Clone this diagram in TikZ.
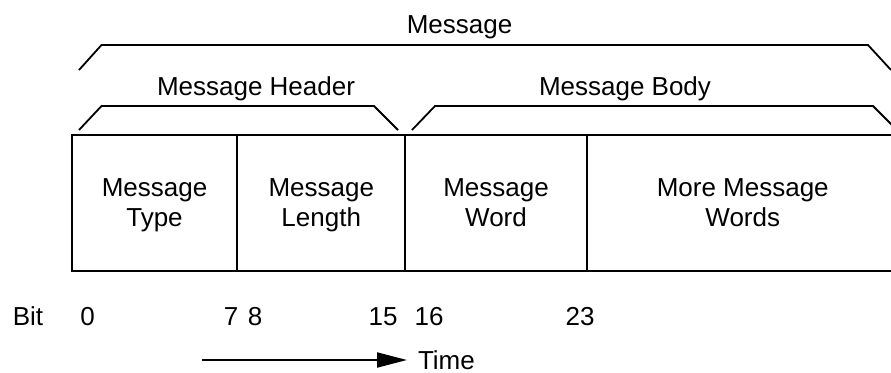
\documentclass[tikz,border=0pt]{standalone}
\usepackage{fontspec}
\setmainfont{Liberation Sans}
\usetikzlibrary{positioning, arrows.meta}

\begin{document}
\begin{tikzpicture}[
  x=1pt, y=-1pt,
  line width=2pt,
  txt/.style={font=\fontsize{26}{30}\selectfont, inner sep=0pt},
  cell/.style={draw, txt, outer sep=0pt, minimum height=136pt,
               text depth=0pt, align=center},
  brace/.style={line width=1.8pt, line join=miter},
  arr/.style={-{Triangle[length=30pt, width=15pt]}}
]
\useasboundingbox (0,0) rectangle (891,372);
\clip (0,0) rectangle (891,372);
% message fields
\node[cell, minimum width=165.5pt] (mtype) at (154.5,203) {Message\\Type};
\node[cell, minimum width=168pt, right=0pt of mtype] (mlen) {Message\\Length};
\node[cell, minimum width=181.5pt, right=0pt of mlen] (mword) {Message\\Word};
\node[cell, minimum width=312pt, right=0pt of mword] (mmore) {More Message\\Words};
% brackets
\draw[brace] (79,70) -- (101.5,45) -- (868,45) -- (891,70);
\draw[brace] (79,130) -- (101.5,106) -- (374,106) -- (398,130);
\draw[brace] (412,130) -- (435,106) -- (873,106) -- (897,130);
\node[txt, anchor=base] (msg) at (459.5,33) {Message};
\node[txt, anchor=base] (hdr) at (256,95) {Message Header};
\node[txt, anchor=base] (body) at (625,95) {Message Body};
% bit numbers
\node[txt, anchor=base] (bit) at (28,325) {Bit};
\node[txt, anchor=base] (b0) at (87.5,325) {0};
\node[txt, anchor=base] (b7) at (231,325) {7};
\node[txt, anchor=base] (b8) at (255,325) {8};
\node[txt, anchor=base] (b15) at (383,325) {15};
\node[txt, anchor=base] (b16) at (429,325) {16};
\node[txt, anchor=base] (b23) at (580,325) {23};
% time axis
\coordinate (tstart) at (202,360);
\node[txt, anchor=west, inner xsep=10pt] (time) at (407,360) {Time};
\draw[arr] (tstart) -- (time.west);
\end{tikzpicture}
\end{document}
